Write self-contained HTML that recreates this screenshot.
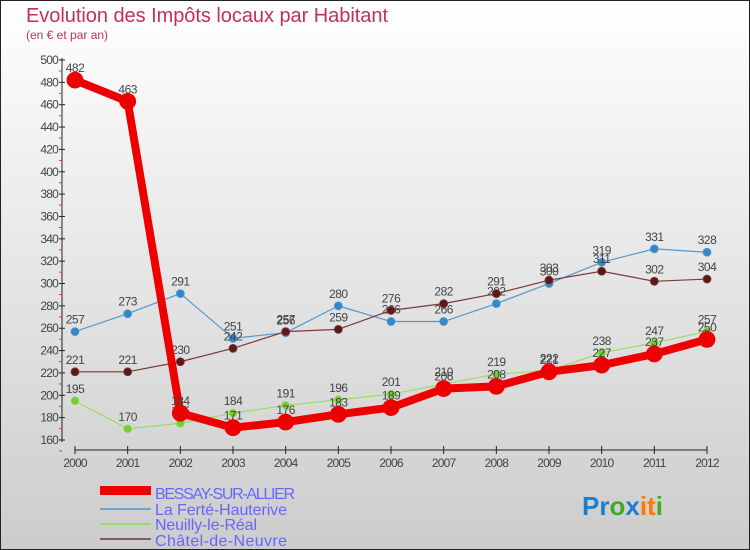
<!DOCTYPE html>
<html><head><meta charset="utf-8"><style>
body{margin:0}
svg{display:block;font-family:"Liberation Sans",sans-serif}
</style></head><body>
<svg id="c" width="750" height="550">
<defs><linearGradient id="bg" x1="0" y1="0" x2="0" y2="1"><stop offset="0" stop-color="#ffffff"/><stop offset="1" stop-color="#cccccc"/></linearGradient></defs>
<rect x="0.5" y="0.5" width="749" height="549" fill="url(#bg)" stroke="#222"/>
<text x="26" y="22" font-size="20" fill="#c0315a" textLength="362">Evolution des Impôts locaux par Habitant</text>
<text x="26" y="39" font-size="12" fill="#c0315a">(en € et par an)</text>
<g id="axes"></g><g id="series"></g>
<g>
<rect x="100" y="486" width="51" height="9" fill="#ee0000"/>
<text x="155" y="499" font-size="16" fill="#6666ff" textLength="140">BESSAY-SUR-ALLIER</text>
<rect x="100" y="508" width="51" height="2" fill="#6ea4d0"/>
<text x="155" y="515" font-size="16" fill="#6666ff" textLength="132">La Ferté-Hauterive</text>
<rect x="100" y="523" width="51" height="2" fill="#99dd66"/>
<text x="155" y="530" font-size="16" fill="#6666ff" textLength="102">Neuilly-le-Réal</text>
<rect x="100" y="538" width="51" height="2" fill="#8a5a5a"/>
<text x="155" y="546" font-size="16" fill="#6666ff" textLength="132">Châtel-de-Neuvre</text>
</g>
<text x="582" y="515" font-size="26" font-weight="bold"><tspan fill="#1a7fd0">Pr</tspan><tspan fill="#44aa22">o</tspan><tspan fill="#1a7fd0">x</tspan><tspan fill="#ff7700">it</tspan><tspan fill="#44aa22">i</tspan></text>
</svg>
<script>
const years=[2000,2001,2002,2003,2004,2005,2006,2007,2008,2009,2010,2011,2012];
const yTicks=[160,180,200,220,240,260,280,300,320,340,360,380,400,420,440,460,480,500];
const bessay=[482,463,184,171,176,183,189,206,208,221,227,237,250];
const ferte=[257,273,291,251,256,280,266,266,282,300,319,331,328];
const neuilly=[195,170,175,184,191,196,201,210,219,222,238,247,257];
const chatel=[221,221,230,242,257,259,276,282,291,303,311,302,304];
const NS="http://www.w3.org/2000/svg";
const xS=i=>75+i*(707-75)/(years.length-1);
const yS=v=>440-(v-160)*(380/340);
function mk(tag,attrs,parent,txt){const e=document.createElementNS(NS,tag);for(const k in attrs)e.setAttribute(k,attrs[k]);if(txt!==undefined)e.textContent=txt;parent.appendChild(e);return e;}
const ax=document.getElementById('axes');
let e=mk('line',{x1:62,y1:58,x2:62,y2:442,stroke:'#222','stroke-width':1},ax);


e=mk('line',{x1:75,y1:450,x2:707,y2:450,stroke:'#222','stroke-width':1},ax);


yTicks.forEach(v=>{const y=yS(v);
 mk('line',{x1:59,y1:y,x2:65,y2:y,stroke:'#222'},ax);
 mk('line',{x1:59,y1:y+11,x2:62,y2:y+11,stroke:'#e33'},ax);
 const t=mk('text',{x:58,y:y+4,'font-size':12,fill:'#444','text-anchor':'end','letter-spacing':'-0.8'},ax,v);
 
 
});
years.forEach((yr,i)=>{const x=xS(i);
 mk('line',{x1:x,y1:446,x2:x,y2:454,stroke:'#222'},ax);
 const t=mk('text',{x:x,y:467,'font-size':12,fill:'#444','text-anchor':'middle','letter-spacing':'-0.8'},ax,yr);
 
 
});
const sg=document.getElementById('series');
function series(vals,name,col,dot,w,r){
 const g=mk('g',{},sg);
 
 
 mk('polyline',{points:vals.map((v,i)=>xS(i)+','+yS(v)).join(' '),fill:'none',stroke:col,'stroke-width':w,'stroke-linejoin':'round'},g);
 vals.forEach((v,i)=>{
  const c=mk('circle',{cx:xS(i),cy:yS(v),r:r,fill:dot,stroke:col,'stroke-width':0.8},g);
  
  
  const t=mk('text',{x:xS(i),y:yS(v)-8,'font-size':12,fill:'#444','text-anchor':'middle','letter-spacing':'-0.5'},g,v);
  
  
 });
}
series(ferte,'ferte','#5599cc','#3388cc',1.2,4);
series(neuilly,'neuilly','#99dd66','#77cc33',1.2,4);
series(chatel,'chatel','#7a3a3a','#5a1a1a',1.2,4);
series(bessay,'bessay','#ee0000','#ee0000',8,8);
</script>
</body></html>
